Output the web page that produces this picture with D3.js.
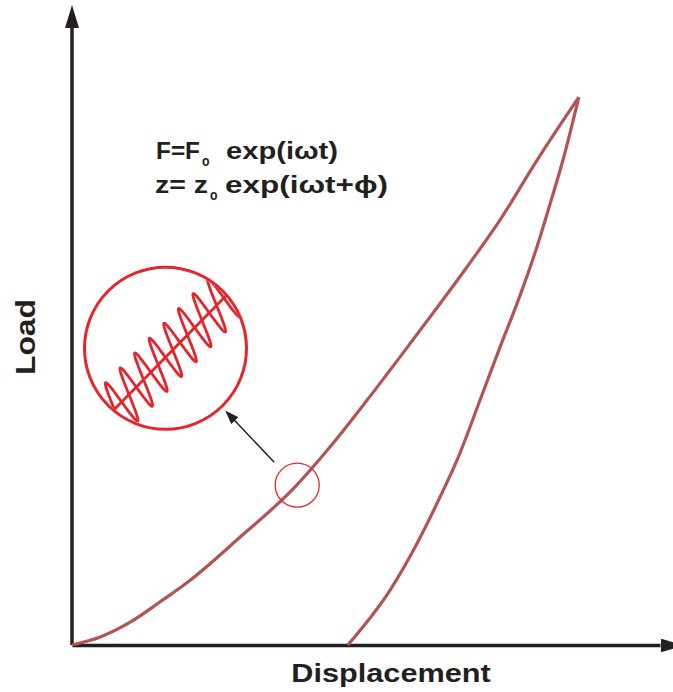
<!DOCTYPE html>
<html>
  <head>
    <meta charset="utf-8">
    <title></title>
  </head>
  <style>
  body{
      font-family: "Liberation Sans", Arial, helvetica;
      background-color: #fff;
      margin:0;
      padding:0
    }
    .axis .tick { display: none }
    .axis path {
        stroke: #231f20;
        stroke-width: 3.5
    }
    .label {
        font-weight: bold;
        fill: #231f20
    }
  </style>
  <script src="https://d3js.org/d3.v7.min.js"></script>
  <body>
    <script>
    // loading branch (displacement, load), arbitrary units 0-100
    var loadX = [0, 4.8, 9.9, 15.0, 20.1, 28.6, 37.4, 44.4, 50.2, 55.8, 61.4, 67.2, 72.8, 79.1, 86.2]
    var loadY = [0, 1.3, 3.7, 7.0, 10.5, 17.5, 25.1, 32.7, 39.7, 46.7, 53.8, 61.3, 68.9, 78.6, 88.8]

    // unloading branch, residual depth up to the peak
    var unloadX = [46.9, 54.1, 58.7, 62.6, 65.5, 69.4, 72.6, 75.9, 78.9, 81.5, 83.5, 86.2]
    var unloadY = [0, 8.9, 16.5, 24.0, 30.0, 39.7, 47.8, 55.9, 64.0, 72.1, 78.6, 88.8]

    // point on the curve that is magnified, and where the zoom bubble sits
    var zoomPoint = [38.3, 25.9]
    var bubblePoint = [15.9, 48.1]

    var width = 673
    var height = 692

    var svg = d3.select("body")
                .append("svg")
                .attr("width", width)
                .attr("height", height)

    var xScale = d3.scaleLinear().domain([0, 100]).range([72, 660])
    var yScale = d3.scaleLinear().domain([0, 100]).range([645, 28])

    // arrow heads
    var defs = svg.append("defs")
    defs.append("marker")
        .attr("id", "axisHead")
        .attr("markerUnits", "userSpaceOnUse")
        .attr("markerWidth", 24).attr("markerHeight", 16)
        .attr("refX", 0).attr("refY", 7)
        .attr("orient", "auto")
        .append("path")
        .attr("d", "M0,0L23,7L0,14Z")
        .attr("fill", "#231f20")

    defs.append("marker")
        .attr("id", "smallHead")
        .attr("markerUnits", "userSpaceOnUse")
        .attr("markerWidth", 16).attr("markerHeight", 12)
        .attr("refX", 2).attr("refY", 5)
        .attr("orient", "auto")
        .append("path")
        .attr("d", "M0,0L14,5L0,10Z")
        .attr("fill", "#231f20")

    //添加坐标轴
    svg.append("g")
       .attr("class", "axis")
       .attr("transform", "translate(0," + yScale(0) + ")")
       .call(d3.axisBottom(xScale).ticks(0).tickSizeOuter(0))
       .select(".domain")
       .attr("marker-end", "url(#axisHead)")

    svg.append("g")
       .attr("class", "axis")
       .attr("transform", "translate(" + xScale(0) + ",0)")
       .call(d3.axisLeft(yScale).ticks(0).tickSizeOuter(0))
       .select(".domain")
       .attr("d", "M0," + yScale(0) + "V" + yScale(100))
       .attr("marker-end", "url(#axisHead)")

    // 曲线
    var linePath = d3.line()
                     .x(function(d){ return xScale(d[0]) })
                     .y(function(d){ return yScale(d[1]) })
                     .curve(d3.curveMonotoneX)

    var branches = [d3.zip(loadX, loadY), d3.zip(unloadX, unloadY)]

    svg.append("g").selectAll("path")
       .data(branches)
       .enter()
       .append("path")
       .attr("d", linePath)
       .attr("fill", "none")
       .attr("stroke", "#b35454")
       .attr("stroke-width", 3.2)

    // small circle on curve
    var zx = xScale(zoomPoint[0]), zy = yScale(zoomPoint[1])
    svg.append("circle")
       .attr("cx", zx).attr("cy", zy).attr("r", 22)
       .attr("fill", "none")
       .attr("stroke", "#e8262b")
       .attr("stroke-width", 1.3)

    // bubble
    var bx = xScale(bubblePoint[0]), by = yScale(bubblePoint[1])
    var br = 81

    svg.append("line")
       .attr("x1", zx - 23).attr("y1", zy - 23)
       .attr("x2", bx + 68).attr("y2", by + 71)
       .attr("stroke", "#231f20")
       .attr("stroke-width", 1.5)
       .attr("marker-end", "url(#smallHead)")

    defs.append("clipPath").attr("id", "bubbleClip")
        .append("circle").attr("cx", bx).attr("cy", by).attr("r", br - 1.5)

    // baseline through the bubble and the sine riding on it
    var b0 = [bx - 53, by + 63], b1 = [bx + 62, by - 54]
    var slope = (b1[1] - b0[1]) / (b1[0] - b0[0])
    var step = 14.6, amp = 26
    var ux = -0.48, uy = -0.877
    var firstPeak = bx - 47.5

    var wave = d3.range(b0[0] - 30, b1[0] + 30, 0.1).map(function(xb){
        var yb = b0[1] + slope * (xb - b0[0])
        var s = amp * Math.sin(2 * Math.PI * (xb - firstPeak) / step + Math.PI / 2)
        return [xb + s * ux, yb + s * uy]
    })

    var bubble = svg.append("g").attr("clip-path", "url(#bubbleClip)")
    bubble.append("line")
          .attr("x1", b0[0]).attr("y1", b0[1])
          .attr("x2", b1[0]).attr("y2", b1[1])
          .attr("stroke", "#e4262c")
          .attr("stroke-width", 2.8)
    bubble.append("path")
          .attr("d", d3.line()(wave))
          .attr("fill", "none")
          .attr("stroke", "#e4262c")
          .attr("stroke-width", 2.8)

    svg.append("circle")
       .attr("cx", bx).attr("cy", by).attr("r", br)
       .attr("fill", "none")
       .attr("stroke", "#e4262c")
       .attr("stroke-width", 3)

    // 公式
    var eq = svg.append("g").attr("class", "label")

    var parts = [
        {t: "F=F", x: 156, y: 159, len: 44, size: 23},
        {t: "o", x: 202, y: 166, len: 7.5, size: 15},
        {t: "exp(iωt)", x: 226, y: 159, len: 112, size: 23},
        {t: "z= z", x: 155, y: 193, len: 53, size: 23},
        {t: "o", x: 210, y: 200, len: 7.5, size: 15},
        {t: "exp(iωt+ϕ)", x: 225, y: 193, len: 163, size: 23}
    ]

    eq.selectAll("text")
      .data(parts)
      .enter()
      .append("text")
      .attr("x", function(d){ return d.x })
      .attr("y", function(d){ return d.y })
      .attr("font-size", function(d){ return d.size })
      .attr("textLength", function(d){ return d.len })
      .attr("lengthAdjust", "spacingAndGlyphs")
      .text(function(d){ return d.t })

    // 轴标题
    svg.append("text")
       .attr("class", "label")
       .attr("font-size", 26)
       .attr("text-anchor", "middle")
       .attr("transform", "translate(391,682) scale(1.18,1)")
       .text("Displacement")

    svg.append("text")
       .attr("class", "label")
       .attr("font-size", 27)
       .attr("text-anchor", "middle")
       .attr("transform", "translate(35,337) rotate(-90) scale(1.18,1)")
       .text("Load")
    </script>
  </body>
</html>
